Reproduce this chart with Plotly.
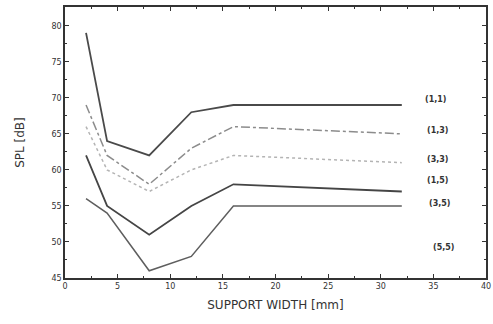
import plotly.graph_objects as go

support_width = [2, 4, 8, 12, 16, 32]
spl_1_1 = [79, 64, 62, 68, 69, 69]
spl_1_3 = [69, 62, 58, 63, 66, 65]
spl_3_3 = [66, 60, 57, 60, 62, 61]
spl_1_5 = [62, 55, 51, 55, 58, 57]
spl_3_5 = [56, 54, 46, 48, 55, 55]

mode_labels = ["(1,1)", "(1,3)", "(3,3)", "(1,5)", "(3,5)", "(5,5)"]
label_x = [35.2, 35.4, 35.4, 35.4, 35.6, 36.0]
label_y = [69.7, 65.4, 61.5, 58.5, 55.3, 49.3]

x_ticks = [0, 5, 10, 15, 20, 25, 30, 35, 40]
y_ticks = [45, 50, 55, 60, 65, 70, 75, 80]

series = [
    ("(1,1)", spl_1_1, "#4a4a4a", "solid", 1.8),
    ("(1,3)", spl_1_3, "#8c8c8c", "dashdot", 1.5),
    ("(3,3)", spl_3_3, "#b4b4b4", "dot", 1.5),
    ("(1,5)", spl_1_5, "#454545", "solid", 1.8),
    ("(3,5)", spl_3_5, "#5e5e5e", "solid", 1.5),
]

fig = go.Figure()
for name, vals, color, dash, w in series:
    fig.add_trace(go.Scatter(x=support_width, y=vals, mode="lines", name=name,
                             line=dict(color=color, dash=dash, width=w)))

for t, lx, ly in zip(mode_labels, label_x, label_y):
    fig.add_annotation(x=lx, y=ly, text="<b>" + t + "</b>", showarrow=False,
                       xanchor="center", yanchor="middle",
                       font=dict(family="DejaVu Sans", size=8, color="#333333"))

axis_common = dict(showgrid=False, zeroline=False, showline=True, linecolor="#333333", linewidth=1.5,
                   mirror="ticks", ticks="inside", ticklen=4, tickcolor="#333333", tickwidth=1.2,
                   ticklabeloverflow="allow",
                   tickfont=dict(family="DejaVu Sans", size=8, color="#333333"))

fig.update_layout(
    width=493, height=324,
    margin=dict(l=65, r=7, t=7, b=46, autoexpand=False),
    paper_bgcolor="white", plot_bgcolor="white",
    showlegend=False,
    xaxis=dict(range=[0, 40], tickvals=x_ticks, ticktext=[str(v) for v in x_ticks],
               automargin=False,
               minor=dict(ticks="inside", ticklen=2, dtick=2.5, tickcolor="#333333"),
               title=dict(text="SUPPORT WIDTH [mm]", standoff=10,
                          font=dict(family="DejaVu Sans", size=12, color="#333333")),
               **axis_common),
    yaxis=dict(range=[45, 82.6], tickvals=y_ticks, ticktext=[str(v) for v in y_ticks],
               automargin=False,
               minor=dict(ticks="inside", ticklen=2, dtick=2.5, tickcolor="#333333"),
               title=dict(text="SPL [dB]", standoff=24,
                          font=dict(family="DejaVu Sans", size=12, color="#333333")),
               **axis_common),
)

fig.write_html("out.html", config={"displayModeBar": False},
               post_script="document.body.style.margin='0';document.body.style.overflow='hidden';")
